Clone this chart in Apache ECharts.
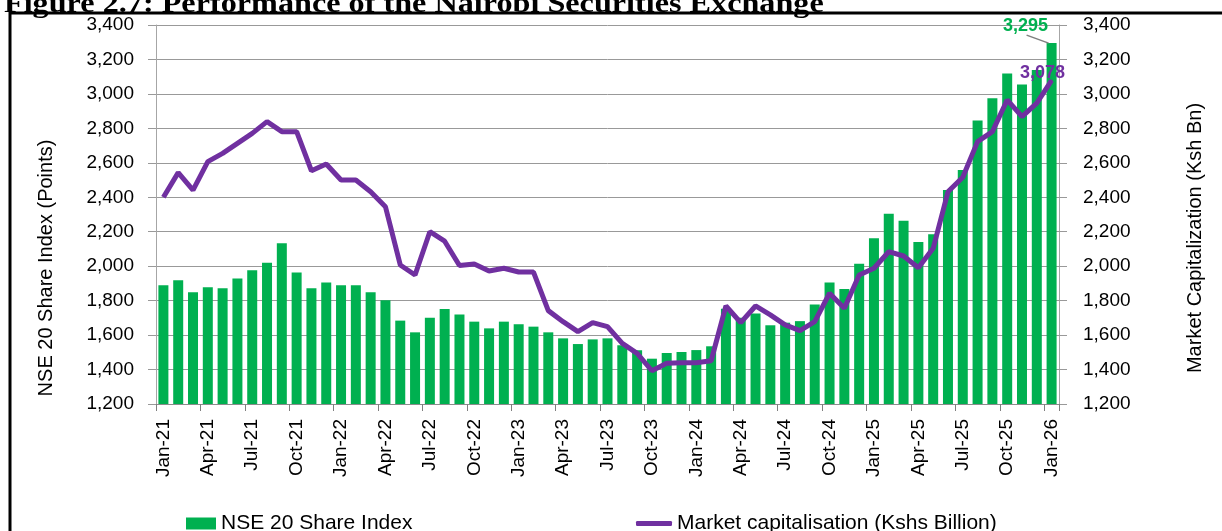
<!DOCTYPE html>
<html>
<head>
<meta charset="utf-8">
<title>NSE performance</title>
<script src="https://cdn.jsdelivr.net/npm/echarts@6.0.0/dist/echarts.min.js"></script>
<style>
  html, body { margin: 0; padding: 0; background: #fff; }
  #main { width: 1222px; height: 531px; }
</style>
</head>
<body>
<div id="main"></div>
<script>
// monthly categories, Jan-21 .. Jan-26
const categories = [
  'Jan-21','Feb-21','Mar-21','Apr-21','May-21','Jun-21','Jul-21','Aug-21','Sep-21','Oct-21','Nov-21','Dec-21',
  'Jan-22','Feb-22','Mar-22','Apr-22','May-22','Jun-22','Jul-22','Aug-22','Sep-22','Oct-22','Nov-22','Dec-22',
  'Jan-23','Feb-23','Mar-23','Apr-23','May-23','Jun-23','Jul-23','Aug-23','Sep-23','Oct-23','Nov-23','Dec-23',
  'Jan-24','Feb-24','Mar-24','Apr-24','May-24','Jun-24','Jul-24','Aug-24','Sep-24','Oct-24','Nov-24','Dec-24',
  'Jan-25','Feb-25','Mar-25','Apr-25','May-25','Jun-25','Jul-25','Aug-25','Sep-25','Oct-25','Nov-25','Dec-25',
  'Jan-26'
];

// NSE 20 Share Index (points), bars, left axis
const nse20Index = [
  1889, 1918, 1848, 1877, 1872, 1928, 1976, 2020, 2133, 1964, 1872, 1906,
  1889, 1889, 1848, 1802, 1684, 1616, 1701, 1751, 1719, 1678, 1639, 1678,
  1663, 1649, 1616, 1581, 1548, 1575, 1581, 1541, 1512, 1463, 1496, 1502,
  1513, 1535, 1753, 1700, 1725, 1657, 1672, 1681, 1777, 1906, 1868, 2014,
  2162, 2305, 2264, 2140, 2185, 2442, 2558, 2845, 2975, 3118, 3055, 3139,
  3295
];

// Market capitalisation (Kshs billion), line, right axis
const marketCap = [
  2400, 2543, 2442, 2607, 2655, 2713, 2771, 2839, 2781, 2781, 2554, 2593,
  2500, 2500, 2432, 2345, 2007, 1949, 2200, 2145, 2004, 2013, 1972, 1988,
  1966, 1966, 1742, 1678, 1620, 1672, 1649, 1552, 1494, 1393, 1436, 1440,
  1440, 1451, 1769, 1672, 1769, 1717, 1659, 1626, 1678, 1843, 1756, 1949,
  1988, 2084, 2059, 1991, 2104, 2432, 2516, 2723, 2781, 2965, 2868, 2946,
  3078
];

const axisMin = 1200;
const axisMax = 3400;
const axisStep = 200;

const GREEN = '#00b050';
const PURPLE = '#7030a0';
const FONT = 'Liberation Sans, Arial, sans-serif';

const fmt = v => Number(v).toLocaleString('en-US');
const last = categories.length - 1;

// only the last point of each series carries a value label
const barData = nse20Index.map((v, i) => i === last
  ? { value: v, label: { show: true } }
  : v);
// the label of a line point needs a symbol to hang on, so the last point gets a tiny one
const lineData = marketCap.map((v, i) => i === last
  ? { value: v, symbol: 'circle', symbolSize: 2, label: { show: true } }
  : v);

function valueAxis(pos, name, margin, nameGap, namePad) {
  return {
    type: 'value',
    position: pos,
    min: axisMin,
    max: axisMax,
    interval: axisStep,
    name: name,
    nameLocation: 'middle',
    nameRotate: 90,
    nameGap: nameGap,
    nameTextStyle: { fontFamily: FONT, fontSize: 20, color: '#000', padding: namePad },
    axisLine: { show: true, lineStyle: { color: '#a6a6a6', width: 1 } },
    axisTick: { show: true, length: 8, lineStyle: { color: '#999' } },
    axisLabel: { fontFamily: FONT, fontSize: 19, color: '#000', margin: margin, formatter: fmt },
    splitLine: { show: pos === 'left', lineStyle: { color: '#999', width: 1 } }
  };
}

const chart = echarts.init(document.getElementById('main'), null, { renderer: 'canvas' });

chart.setOption({
  animation: false,
  backgroundColor: '#fff',
  grid: { left: 156, right: 163, top: 25, bottom: 127, containLabel: false },
  xAxis: {
    type: 'category',
    data: categories,
    boundaryGap: true,
    axisLine: { show: true, lineStyle: { color: '#8c8c8c', width: 1 } },
    axisTick: { show: true, interval: 2, length: 7, lineStyle: { color: '#7f7f7f' } },
    axisLabel: { interval: 2, rotate: 90, margin: 15, fontFamily: FONT, fontSize: 19, color: '#000' },
    splitLine: { show: false }
  },
  yAxis: [
    valueAxis('left', 'NSE 20 Share Index (Points)', 22, 100, [0, 107, 0, 0]),
    valueAxis('right', 'Market Capitalization (Ksh Bn)', 24, 126, [0, 47, 0, 0])
  ],
  legend: [
    {
      left: 181, top: 508,
      itemWidth: 30, itemHeight: 12, icon: 'rect',
      textStyle: { fontFamily: FONT, fontSize: 21, color: '#000' },
      data: ['NSE 20 Share Index']
    },
    {
      left: 631, top: 508,
      itemWidth: 36, itemHeight: 5, icon: 'roundRect',
      textStyle: { fontFamily: FONT, fontSize: 21, color: '#000' },
      data: ['Market capitalisation (Kshs Billion)']
    }
  ],
  series: [
    {
      name: 'NSE 20 Share Index',
      type: 'bar',
      yAxisIndex: 0,
      data: barData,
      barWidth: 10,
      itemStyle: { color: GREEN },
      label: {
        show: false,
        position: 'top',
        formatter: p => fmt(p.value),
        fontFamily: FONT, fontSize: 18, fontWeight: 'bold', color: GREEN
      },
      labelLayout: { dx: -26, dy: -3 },
      z: 2
    },
    {
      name: 'Market capitalisation (Kshs Billion)',
      type: 'line',
      yAxisIndex: 1,
      data: lineData,
      color: PURPLE,
      symbol: 'none',
      showSymbol: true,
      itemStyle: { color: PURPLE },
      lineStyle: { color: PURPLE, width: 5 },
      label: {
        show: false,
        position: 'top',
        offset: [-9, 8],
        formatter: p => fmt(p.value),
        fontFamily: FONT, fontSize: 18, fontWeight: 'bold', color: PURPLE
      },
      z: 3
    }
  ],
  graphic: [
    {
      type: 'rect',
      silent: true,
      z: -1,
      shape: { x: 10, y: 13, width: 1300, height: 600 },
      style: { fill: 'none', stroke: '#000', lineWidth: 3 }
    },
    {
      type: 'text',
      silent: true,
      x: 4,
      y: -9,
      scaleX: 1.15,
      style: {
        text: 'Figure 2.7: Performance of the Nairobi Securities Exchange',
        font: 'bold 28px "Liberation Serif", "Times New Roman", serif',
        fill: '#000'
      }
    }
  ]
});

// leader line from the moved value label down to the top of the last bar
const barTop = chart.convertToPixel({ xAxisIndex: 0, yAxisIndex: 0 }, [last, nse20Index[last]]);
chart.setOption({
  graphic: [
    {
      type: 'line',
      id: 'leader',
      silent: true,
      z: 10,
      shape: { x1: barTop[0] - 25, y1: barTop[1] - 8, x2: barTop[0] - 3, y2: barTop[1] },
      style: { stroke: '#7f7f7f', lineWidth: 1.5 }
    }
  ]
});
</script>
</body>
</html>
